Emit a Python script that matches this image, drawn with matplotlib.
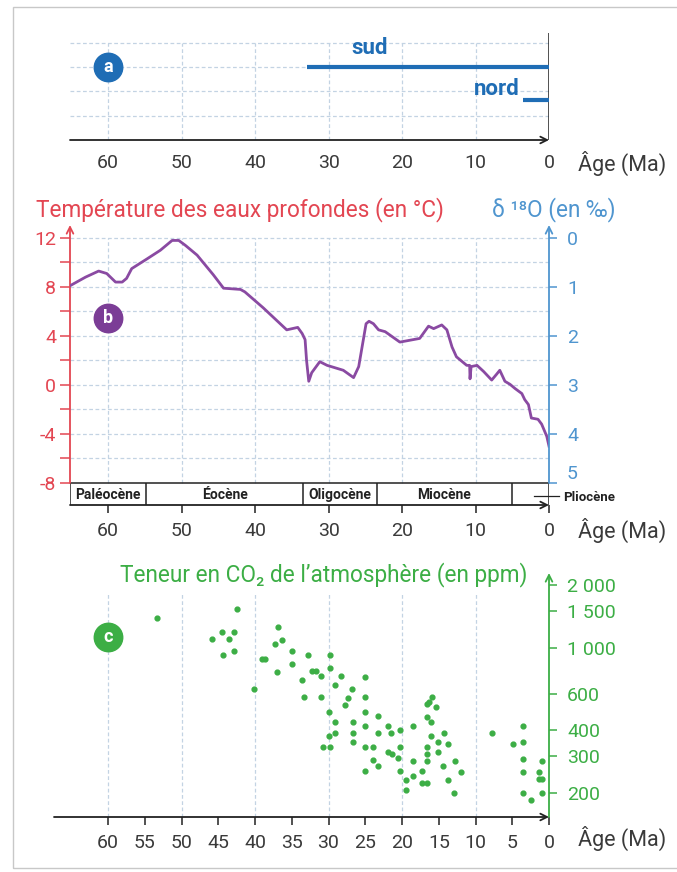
import numpy as np
import matplotlib.pyplot as plt
from matplotlib.patches import Rectangle
from matplotlib.ticker import NullLocator

plt.rcParams['font.family'] = ['Roboto', 'DejaVu Sans']

# (a) calottes glaciaires : début (Ma) -> aujourd'hui
ice_names = ['sud', 'nord']
ice_start = [33.0, 3.5]

# (b) température des eaux profondes
age_b = [65.2, 64.9, 63.1, 61.3, 60.2, 59.0, 58.1, 57.5, 56.8, 54.7, 52.9, 51.3,
         50.4, 49.5, 47.9, 45.7, 44.3, 42.0, 41.4, 38.9, 35.7, 34.2, 33.6, 33.2,
         33.0, 32.7, 32.3, 31.2, 30.2, 28.0, 26.6, 25.9, 25.3, 24.9, 24.5, 23.9,
         23.2, 22.3, 20.3, 17.6, 16.4, 15.7, 14.6, 13.9, 13.2, 12.6, 11.2, 10.8,
         10.75, 10.6, 9.8, 8.9, 7.8, 7.1, 6.7, 6.0, 5.3, 4.6, 3.7, 3.3, 2.8, 2.4,
         1.5, 1.0, 0.3, 0.0]
temp_b = [8.1, 8.2, 8.8, 9.3, 9.1, 8.4, 8.4, 8.7, 9.5, 10.3, 11.0, 11.8,
          11.8, 11.4, 10.6, 9.0, 7.9, 7.8, 7.6, 6.3, 4.5, 4.7, 4.2, 3.7,
          2.0, 0.3, 1.0, 1.9, 1.6, 1.2, 0.6, 1.5, 3.6, 5.0, 5.2, 5.0,
          4.5, 4.35, 3.5, 3.8, 4.8, 4.6, 4.9, 4.5, 3.1, 2.3, 1.6, 1.6,
          0.5, 1.5, 1.6, 1.1, 0.4, 0.9, 1.2, 0.3, 0.05, -0.3, -0.7, -1.2, -1.6, -2.7,
          -2.8, -3.2, -4.2, -5.0]
epoch_names = ['Paléocène', 'Éocène', 'Oligocène', 'Miocène']
epoch_bounds = [65.2, 54.8, 33.5, 23.4, 5.1, 0.0]

# (c) teneur en CO2
age_c = [53.3, 42.5, 45.9, 44.5, 43.6, 42.9, 44.4, 42.9, 40.2, 39.1, 38.6, 36.9,
         37.3, 36.3, 37.0, 34.9, 34.9, 32.8, 33.6, 33.3, 32.2, 31.7, 31.0, 31.0,
         29.8, 29.8, 28.3, 29.1, 26.8, 27.4, 27.8, 29.9, 29.1, 29.1, 29.9, 30.7,
         29.8, 26.6, 26.6, 26.6, 25.1, 25.1, 25.1, 25.1, 25.1, 23.9, 25.1, 23.9,
         23.2, 23.2, 23.2, 21.9, 21.5, 21.9, 21.4, 20.3, 20.3, 20.6, 20.3, 19.4,
         19.5, 18.5, 18.5, 18.5, 17.3, 17.3, 16.6, 16.6, 16.6, 16.6, 16.6, 16.6,
         16.3, 15.9, 15.4, 16.0, 16.0, 15.1, 15.1, 14.3, 13.7, 14.4, 13.7, 12.8,
         12.9, 12.0, 7.7, 4.9, 3.6, 3.6, 3.6, 3.6, 3.6, 2.4, 1.4, 1.4, 0.9, 0.9, 0.9]
co2_c = [1384, 1528, 1100, 1189, 1100, 1189, 925, 960, 632, 881, 881, 1262,
         1041, 1088, 764, 960, 831, 925, 701, 577, 772, 772, 730, 577,
         925, 796, 733, 663, 631, 571, 532, 489, 436, 387, 376, 333,
         333, 436, 387, 353, 725, 577, 492, 421, 334, 334, 255, 288,
         270, 471, 387, 421, 387, 316, 307, 399, 334, 294, 255, 231,
         207, 421, 285, 240, 255, 223, 223, 334, 307, 285, 462, 534,
         549, 577, 517, 436, 374, 353, 316, 387, 343, 268, 231, 285,
         200, 251, 387, 343, 420, 353, 291, 253, 200, 185, 253, 233, 233, 285, 200]

age_ticks = [60, 50, 40, 30, 20, 10, 0]
co2_ticks = [200, 300, 400, 600, 1000, 1500, 2000]
co2_labels = ['200', '300', '400', '600', '1 000', '1 500', '2 000']

dark = '#3a3a3a'
blue_a = '#1f6db5'
red = '#e34652'
blue_b = '#4f95cf'
purple = '#8a4aa2'
purple_c = '#7b3d96'
green = '#3cae45'
gridc = '#c3d3e3'
dash = (0, (3, 2))

fig = plt.figure(figsize=(6.77, 8.72), dpi=100)
W, H = 677, 872


def box(x0, y0, x1, y1):
    return [x0 / W, 1 - y1 / H, (x1 - x0) / W, (y1 - y0) / H]


def badge(ax, x, y, letter, color):
    ax.scatter([x], [y], s=420, color=color, zorder=5, clip_on=False)
    ax.text(x, y, letter, color='white', fontsize=13, weight='bold',
            ha='center', va='center', zorder=6)


def x_arrow(ax):
    ax.annotate('', xy=(1, 0), xytext=(0, 0), xycoords='axes fraction',
                arrowprops=dict(arrowstyle='->', color='#222222', lw=1.3,
                                mutation_scale=12, shrinkA=0, shrinkB=0))


# ---------------- panel a
ax_a = fig.add_axes(box(70, 33, 549, 140))
ax_a.set_xlim(65.2, 0)
ax_a.set_ylim(0, 4.4)
for s in ax_a.spines.values():
    s.set_visible(False)
ax_a.hlines([1, 2, 3, 4], 65.2, 0, color=gridc, lw=0.9, ls=dash)
ax_a.vlines(age_ticks[:-1], 0, 4, color=gridc, lw=0.9, ls=dash)
ax_a.axvline(0, color='#222222', lw=1.1)
x_arrow(ax_a)
for name, start, lvl in zip(ice_names, ice_start, [3.0, 1.65]):
    ax_a.hlines(lvl, start, 0, color=blue_a, lw=3.0)
ax_a.text(24.4, 3.8, ice_names[0], color=blue_a, fontsize=16, weight='bold',
          ha='center', va='center')
ax_a.text(4.0, 2.08, ice_names[1], color=blue_a, fontsize=16, weight='bold',
          ha='right', va='center')
badge(ax_a, 60, 3.0, 'a', blue_a)
ax_a.set_yticks([])
ax_a.set_xticks(age_ticks)
ax_a.set_xticks([60], minor=True)
ax_a.tick_params(axis='x', which='major', length=0, pad=10, labelsize=14,
                 labelcolor=dark)
ax_a.tick_params(axis='x', which='minor', length=6, width=1.1, color='#222222')
fig.text(578 / W, 1 - 163 / H, 'Âge (Ma)', fontsize=15.5, color=dark,
         ha='left', va='center')

# ---------------- panel b
ax_b = fig.add_axes(box(70, 225, 549, 505))
ax_b.set_xlim(65.2, 0)
ax_b.set_ylim(-9.8, 13.06)
for s in ax_b.spines.values():
    s.set_visible(False)
ax_b.hlines(np.arange(-6, 13, 2), 65.2, 0, color=gridc, lw=0.9, ls=dash)
ax_b.vlines(age_ticks[:-1], -8, 12, color=gridc, lw=0.9, ls=dash)
ax_b.plot(age_b, temp_b, color=purple, lw=2.0, zorder=4)
badge(ax_b, 60, 5.5, 'b', purple_c)

# epoch band
ax_b.hlines(-8, 65.2, 0, color='#222222', lw=1.1)
ax_b.vlines(epoch_bounds[:-1], -9.8, -8, color='#222222', lw=1.1)
ax_b.plot([0, 0], [-9.8, -8], color='#222222', lw=1.1)
for i, name in enumerate(epoch_names):
    mid = (epoch_bounds[i] + epoch_bounds[i + 1]) / 2
    ax_b.text(mid, -8.95, name, fontsize=10, weight='bold', color='#222222',
              ha='center', va='center')
ax_b.plot([2.0, -1.4], [-9.1, -9.1], color='#222222', lw=0.9, clip_on=False)
ax_b.text(-1.9, -9.15, 'Pliocène', fontsize=9.5, weight='bold', color='#222222',
          ha='left', va='center', clip_on=False)
x_arrow(ax_b)

# left temperature axis
ax_b.annotate('', xy=(0, 13.06), xytext=(0, -8),
              xycoords=ax_b.get_yaxis_transform(),
              arrowprops=dict(arrowstyle='->', color=red, lw=1.3,
                              mutation_scale=12, shrinkA=0, shrinkB=0))
temp_ticks = list(range(-8, 13, 2))
ax_b.set_yticks(temp_ticks)
ax_b.set_yticklabels([str(t) if t % 4 == 0 else '' for t in temp_ticks])
ax_b.tick_params(axis='y', colors=red, length=7, width=1.1, labelsize=14, pad=3)
ax_b.set_xticks(age_ticks)
ax_b.tick_params(axis='x', length=6, width=1.1, color='#222222', pad=6,
                 labelsize=14, labelcolor=dark)

# right d18O axis
ax_b2 = ax_b.twinx()
ax_b2.set_ylim((12 + 9.8) / 4, (12 - 13.06) / 4)
for s in ax_b2.spines.values():
    s.set_visible(False)
ax_b2.annotate('', xy=(1, -0.265), xytext=(1, 5.0),
               xycoords=ax_b2.get_yaxis_transform(),
               arrowprops=dict(arrowstyle='->', color=blue_b, lw=1.3,
                               mutation_scale=12, shrinkA=0, shrinkB=0))
ax_b2.set_yticks(range(6))
ax_b2.tick_params(axis='y', colors=blue_b, length=6, width=1.1, labelsize=14, pad=7)
ax_b2.yaxis.get_major_ticks()[5].label2.set_verticalalignment('bottom')

fig.text(36 / W, 1 - 210 / H, 'Température des eaux profondes (en °C)',
         fontsize=16.3, color=red, ha='left', va='center')
fig.text(492 / W, 1 - 210 / H, 'δ ¹⁸O (en ‰)', fontsize=16.3, color=blue_b,
         ha='left', va='center')
fig.text(578 / W, 1 - 530 / H, 'Âge (Ma)', fontsize=15.5, color=dark,
         ha='left', va='center')

# ---------------- panel c
ax_c = fig.add_axes(box(54, 573, 549, 817))
ax_c.set_yscale('log')
ax_c.set_xlim(67.35, 0)
ax_c.set_ylim(153, 2285)
for s in ax_c.spines.values():
    s.set_visible(False)
ax_c.vlines(age_ticks[:-1], 153, 1830, color=gridc, lw=0.9, ls=dash)
ax_c.scatter(age_c, co2_c, s=12, color=green, zorder=4)
badge(ax_c, 60, 1125, 'c', green)
x_arrow(ax_c)
ax_c.annotate('', xy=(1, 2285), xytext=(1, 153),
              xycoords=ax_c.get_yaxis_transform(),
              arrowprops=dict(arrowstyle='->', color=green, lw=1.3,
                              mutation_scale=12, shrinkA=0, shrinkB=0))
ax_c.yaxis.tick_right()
ax_c.yaxis.set_minor_locator(NullLocator())
ax_c.set_yticks(co2_ticks)
ax_c.set_yticklabels(co2_labels)
ax_c.tick_params(axis='y', colors=green, length=6, width=1.1, labelsize=14, pad=7)
ax_c.set_xticks(list(range(60, -1, -5)))
ax_c.tick_params(axis='x', length=6, width=1.1, color='#222222', pad=6,
                 labelsize=14, labelcolor=dark)

fig.text(120 / W, 1 - 575 / H, 'Teneur en CO₂ de l’atmosphère (en ppm)',
         fontsize=16.3, color=green, ha='left', va='center')
fig.text(578 / W, 1 - 838 / H, 'Âge (Ma)', fontsize=15.5, color=dark,
         ha='left', va='center')

# thin frame of the page
fig.patches.append(Rectangle((13 / W, 4 / H), 1, 1 - 11 / H, transform=fig.transFigure,
                             fill=False, edgecolor='#c8c8c8', lw=1.0))

fig.savefig('out.png', dpi=100)
